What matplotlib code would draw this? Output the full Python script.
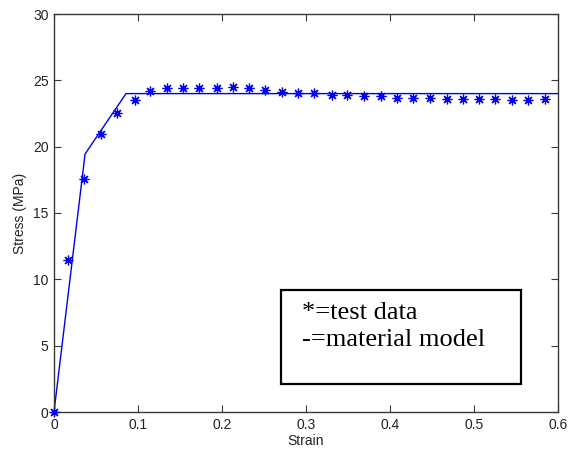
import matplotlib
matplotlib.use("Agg")
import matplotlib.pyplot as plt
from matplotlib.patches import Rectangle

# Test data (asterisks)
test_strain = [0.0, 0.017, 0.0357, 0.056, 0.0754, 0.0964, 0.114, 0.134, 0.153,
               0.173, 0.194, 0.213, 0.2325, 0.2515, 0.271, 0.2905, 0.310, 0.3306,
               0.349, 0.369, 0.389, 0.408, 0.427, 0.4476, 0.4675, 0.4865, 0.5056,
               0.525, 0.545, 0.564, 0.585]
test_stress = [0.0, 11.45, 17.6, 20.95, 22.55, 23.5, 24.2, 24.45, 24.45,
               24.45, 24.45, 24.48, 24.43, 24.25, 24.13, 24.05, 24.05, 23.88,
               23.88, 23.8, 23.8, 23.7, 23.68, 23.68, 23.58, 23.58, 23.58,
               23.58, 23.5, 23.5, 23.58]

# Material model (line)
model_strain = [0.0, 0.037, 0.0857, 0.6]
model_stress = [0.0, 19.45, 24.0, 24.0]

x_ticks = [0, 0.1, 0.2, 0.3, 0.4, 0.5, 0.6]
x_tick_labels = ["0", "0.1", "0.2", "0.3", "0.4", "0.5", "0.6"]
y_ticks = [0, 5, 10, 15, 20, 25, 30]
y_tick_labels = ["0", "5", "10", "15", "20", "25", "30"]

W, H = 568, 455
fig = plt.figure(figsize=(W / 100, H / 100), dpi=100)
ax = fig.add_axes([54 / W, 1 - 412 / H, (558 - 54) / W, (412 - 14) / H])

axis_col = "#3a3a3a"
ax.plot(model_strain, model_stress, color="#0000ee", lw=1.0, zorder=2)
ax.plot(test_strain, test_stress, linestyle="none", marker=(8, 2, 0),
        markersize=7, markeredgewidth=0.9, color="#0000ee", zorder=3,
        clip_on=False)

ax.set_xlim(0, 0.6)
ax.set_ylim(0, 30)
ax.set_xticks(x_ticks)
ax.set_xticklabels(x_tick_labels)
ax.set_yticks(y_ticks)
ax.set_yticklabels(y_tick_labels)

for s in ax.spines.values():
    s.set_color(axis_col)
    s.set_linewidth(1.0)

ax.tick_params(direction="in", length=5, width=0.8, color=axis_col,
               top=True, right=True, labelsize=10, labelcolor="#222222",
               pad=4)
for lab in ax.get_xticklabels() + ax.get_yticklabels():
    lab.set_family("Liberation Sans")

ax.set_xlabel("Strain", fontsize=10, family="Liberation Sans",
              color="#222222", labelpad=2)
ax.set_ylabel("Stress (MPa)", fontsize=10, family="Liberation Sans",
              color="#222222", labelpad=4)

# Annotation box
rect = Rectangle((281 / W, 1 - 384 / H), (521 - 281) / W, (384 - 290) / H,
                 transform=fig.transFigure, fill=True, facecolor="white",
                 edgecolor="black", linewidth=1.6, zorder=5)
fig.add_artist(rect)
fig.text(302 / W, 1 - 319 / H, "*=test data", family="Liberation Serif",
         fontsize=19, va="baseline", ha="left", zorder=6)
fig.text(302 / W, 1 - 345.7 / H, "-=material model", family="Liberation Serif",
         fontsize=19, va="baseline", ha="left", zorder=6)

fig.savefig("out.png", dpi=100)
